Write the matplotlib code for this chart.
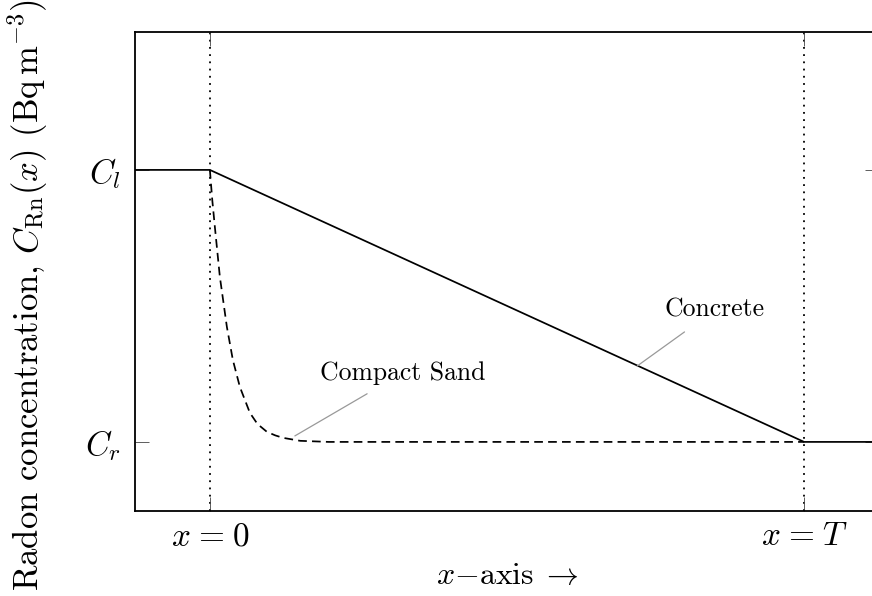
import matplotlib
matplotlib.use("Agg")
import matplotlib.pyplot as plt

plt.rcParams['font.family'] = ['cmr10', 'DejaVu Serif']
plt.rcParams['mathtext.fontset'] = 'cm'
plt.rcParams['axes.unicode_minus'] = False

# Data (T normalised to 1, C_r = 0, C_l = 1)
x_ticks = [0.0, 1.0]
x_ticklabels = [r'$x\hspace{0.08}=\hspace{0.08}0$', r'$x\hspace{0.08}=\hspace{0.08}T$']
y_ticks = [0.0, 1.0]
y_ticklabels = [r'$C_r$', r'$C_l$']

x_concrete = [-0.126, 0.0, 1.0, 1.126]
y_concrete = [1.0, 1.0, 0.0, 0.0]

x_sand = [0.0, 0.004, 0.0084, 0.0168, 0.0286, 0.0387, 0.0505, 0.0673, 0.080, 0.096, 0.110, 0.123, 0.152, 0.20, 1.0]
y_sand = [1.0, 0.89, 0.790, 0.607, 0.423, 0.301, 0.202, 0.107, 0.066, 0.037, 0.024, 0.015, 0.004, 0.0, 0.0]

fig = plt.figure(figsize=(8.72, 5.96), dpi=100)
ax = fig.add_axes([135/872, (596-511)/596, (879-135)/872, (511-32)/596])

for xv in x_ticks:
    ax.axvline(xv, color='black', linestyle=(0, (1, 3)), linewidth=1.3, zorder=1)

ax.plot(x_sand, y_sand, color='black', linestyle=(0, (5, 3)), linewidth=1.25, zorder=2)
ax.plot(x_concrete, y_concrete, color='black', linewidth=1.25, zorder=3)

ax.annotate('Concrete', xy=(0.719, 0.279), xytext=(0.850, 0.485),
            ha='center', va='center', fontsize=18.5,
            arrowprops=dict(arrowstyle='-', color='#999999', lw=0.9,
                            shrinkA=9, shrinkB=0))
ax.annotate('Compact Sand', xy=(0.143, 0.022), xytext=(0.325, 0.254),
            ha='center', va='center', fontsize=18.5,
            arrowprops=dict(arrowstyle='-', color='#999999', lw=0.9,
                            shrinkA=9, shrinkB=0))

ax.set_xlim(-0.126, 1.126)
ax.set_ylim(-0.254, 1.507)
ax.set_xticks(x_ticks)
ax.set_xticklabels(x_ticklabels)
ax.set_yticks(y_ticks)
ax.set_yticklabels(y_ticklabels)
ax.tick_params(axis='both', direction='in', length=10, width=0.6, labelsize=24,
               top=True, right=True, color='#444444')
ax.tick_params(axis='y', pad=10)
ax.tick_params(axis='x', pad=8)
for s in ax.spines.values():
    s.set_linewidth(1.3)

ax.set_xlabel(r'$x$$-$axis$\;\rightarrow$', fontsize=23, labelpad=8)
ax.set_ylabel(r'Radon concentration, $C_{\mathrm{Rn}}(x)$ $(\mathrm{Bq\,m^{-3}})$',
              fontsize=25)
ax.yaxis.set_label_coords(-0.114, 0.451)

fig.savefig('out.png', dpi=100)
